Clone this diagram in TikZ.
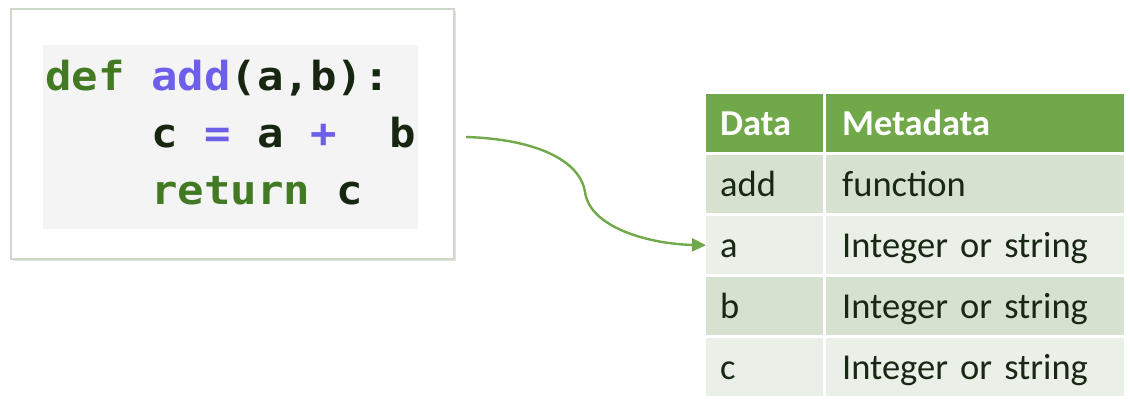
\documentclass[tikz,border=0pt]{standalone}
\usepackage{fontspec}
\setmainfont{Carlito}
\newfontfamily\codefont[FakeStretch=1.1]{DejaVu Sans Mono}
\usetikzlibrary{arrows.meta,shadows}
\definecolor{hdrgreen}{RGB}{112,168,74}
\definecolor{rowdark}{RGB}{214,226,207}
\definecolor{rowlight}{RGB}{234,239,231}
\definecolor{tabtext}{RGB}{25,40,20}
\definecolor{codegreen}{RGB}{66,122,36}
\definecolor{codepurple}{RGB}{110,95,235}
\definecolor{codedark}{RGB}{22,38,16}
\definecolor{framecol}{RGB}{206,216,200}
\definecolor{codebg}{RGB}{244,244,244}
\tikzset{
  cell/.style={anchor=north west, inner ysep=0pt, minimum height=58pt,
    text height=32pt, text depth=8pt, align=left,
    font=\fontsize{36.5}{42}\selectfont, text=tabtext},
  colA/.style={cell, text width=89pt, inner xsep=14pt, minimum width=117pt},
  colB/.style={cell, text width=266pt, inner xsep=16pt, minimum width=298pt},
  hdr/.style={fill=hdrgreen, text=white, font=\fontsize{36.5}{42}\selectfont\bfseries},
  codeline/.style={anchor=base west, inner sep=0pt, font=\codefont\bfseries\fontsize{40}{48}\selectfont},
  conn/.style={draw=hdrgreen, line width=2.4pt, -{Triangle[length=14pt,width=13pt]}}
}
\begin{document}
\begin{tikzpicture}[x=1pt,y=-1pt]
\useasboundingbox (0,0) rectangle (1130,413);
% code box
\node[draw=framecol, line width=1.6pt, fill=white, anchor=north west,
  minimum width=443pt, minimum height=250pt, inner sep=0pt,
  drop shadow={opacity=0.22, shadow xshift=2pt, shadow yshift=-2pt}] (codebox) at (10,8) {};
\node[fill=codebg, anchor=north west, minimum width=375pt, minimum height=184pt, inner sep=0pt] (codearea) at (43,45) {};
\node[codeline] (l1) at (45,90) {\textcolor{codegreen}{def} \textcolor{codepurple}{add}\textcolor{codedark}{(a,b):}};
\node[codeline] (l2) at (45,147) {\textcolor{codedark}{\ \ \ \ c} \textcolor{codepurple}{=} \textcolor{codedark}{a} \textcolor{codepurple}{+} \ \textcolor{codedark}{b}};
\node[codeline] (l3) at (45,204) {\ \ \ \ \textcolor{codegreen}{return} \textcolor{codedark}{c}};
% table
\node[colA, hdr] (h1) at (706,94) {Data};
\node[colB, hdr] (h2) at (826,94) {Metadata};
\node[colA, fill=rowdark] (r1a) at (706,155) {add};
\node[colB, fill=rowdark] (r1b) at (826,155) {function};
\node[colA, fill=rowlight] (r2a) at (706,216) {a};
\node[colB, fill=rowlight] (r2b) at (826,216) {Integer or string};
\node[colA, fill=rowdark] (r3a) at (706,277) {b};
\node[colB, fill=rowdark] (r3b) at (826,277) {Integer or string};
\node[colA, fill=rowlight] (r4a) at (706,338) {c};
\node[colB, fill=rowlight] (r4b) at (826,338) {Integer or string};
% connector
\coordinate (start) at (466,137);
\coordinate (mid) at (585,192);
\draw[conn] (start) .. controls (535,139) and (580,160) .. (mid)
  .. controls (590,228) and (650,244) .. (r2a.west);
\end{tikzpicture}
\end{document}
